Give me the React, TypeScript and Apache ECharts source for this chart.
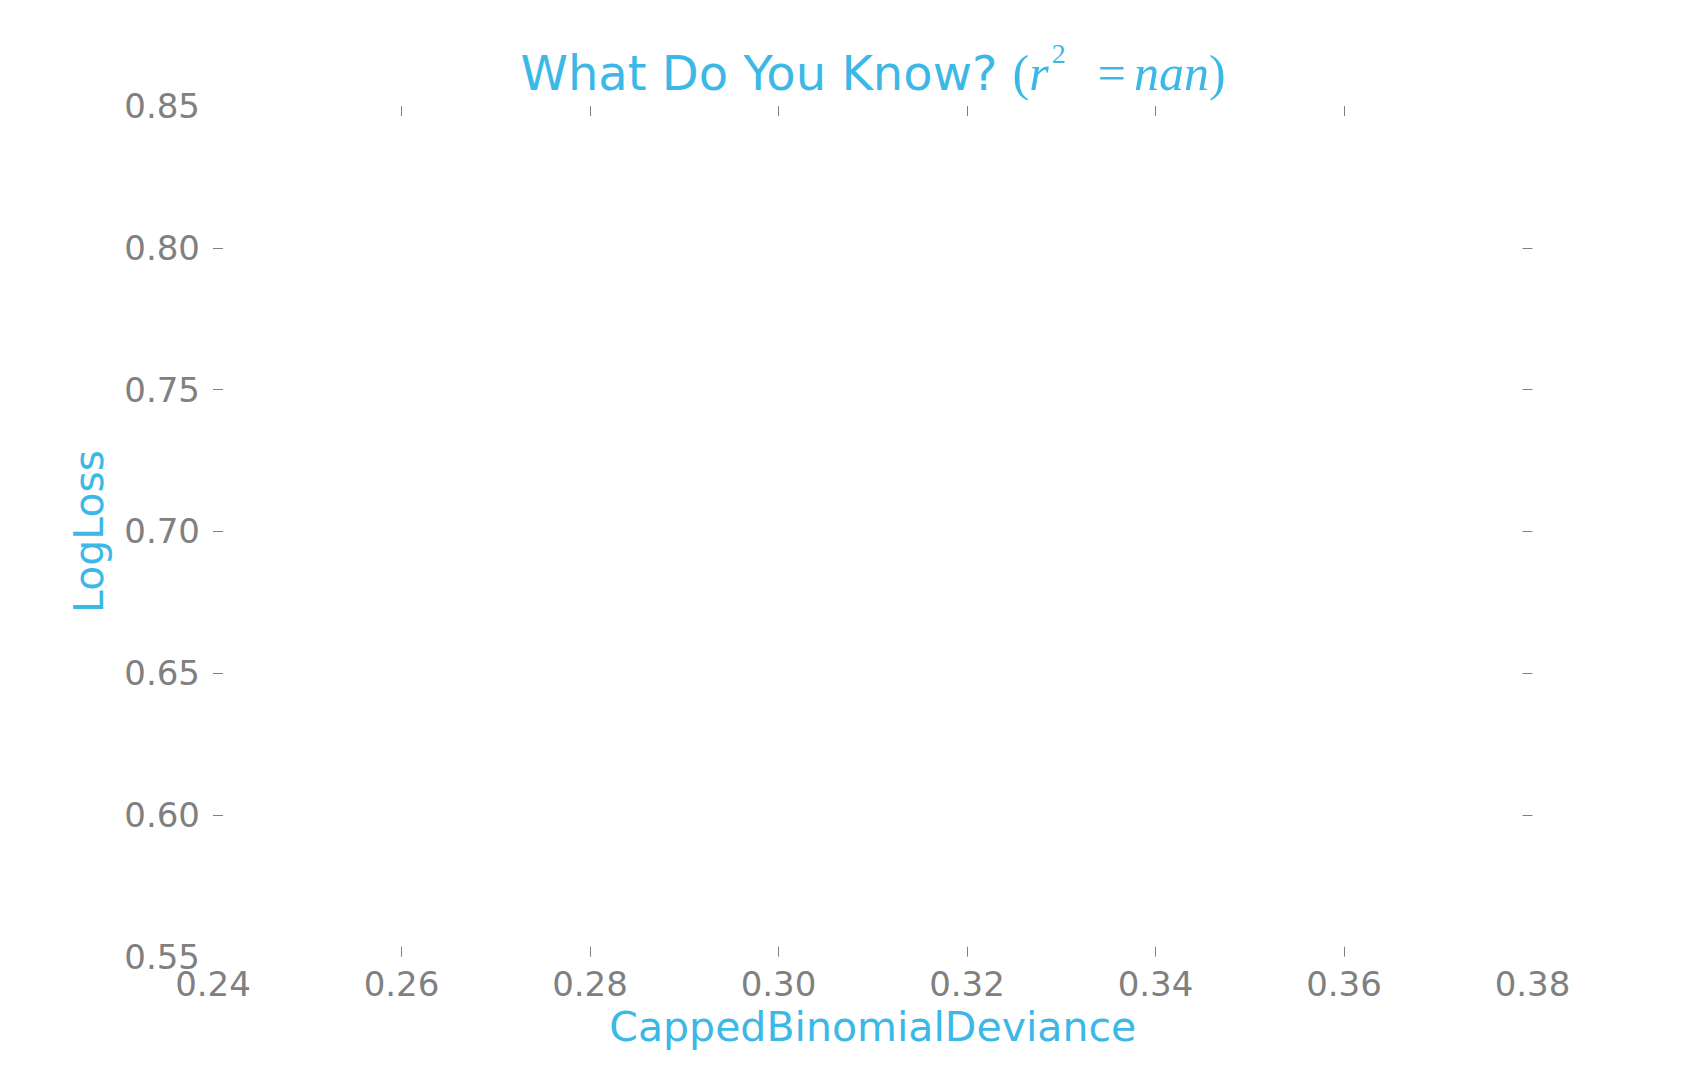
import React, { useEffect, useRef } from "react";
import * as echarts from "echarts";

// ---- data ----
const xMin = 0.24;
const xMax = 0.38;
const xStep = 0.02;
const yMin = 0.55;
const yMax = 0.85;
const yStep = 0.05;
const xTickLabels = [0.24, 0.26, 0.28, 0.3, 0.32, 0.34, 0.36, 0.38];
const xTickMarks = [0.26, 0.28, 0.3, 0.32, 0.34, 0.36];
const yTickLabels = [0.55, 0.6, 0.65, 0.7, 0.75, 0.8, 0.85];
const yTickMarks = [0.6, 0.65, 0.7, 0.75, 0.8];
const points: [number, number][] = [];
const titleMain = "What Do You Know? ";
const rSquared = "nan";
const xName = "CappedBinomialDeviance";
const yName = "LogLoss";

const BLUE = "#3CB8E7";
const GRAY = "#808080";
const SANS = "DejaVu Sans";
const SERIF = "Liberation Serif";

export default function App() {
  const ref = useRef<HTMLDivElement>(null);
  useEffect(() => {
    if (!ref.current) return;
    const chart = echarts.init(ref.current, undefined, { renderer: "svg" });
    const fmt = (v: number) => v.toFixed(2);
    const common = {
      type: "value" as const,
      splitLine: { show: false },
      axisLine: { show: false },
    };
    const base = { color: BLUE, fontWeight: "normal" as const };
    chart.setOption({
      animation: false,
      backgroundColor: "#ffffff",
      title: {
        text: `{t|${titleMain}}{p|(}{i|r}{s|2}{e|=}{i|${rSquared}}{p|)}`,
        left: 873,
        top: 45,
        textAlign: "center",
        padding: 0,
        textStyle: {
          fontWeight: "normal",
          rich: {
            t: { ...base, fontFamily: SANS, fontSize: 48, lineHeight: 56 },
            p: { ...base, fontFamily: SERIF, fontSize: 50, lineHeight: 56 },
            i: { ...base, fontFamily: SERIF, fontStyle: "italic", fontSize: 50, lineHeight: 56 },
            s: { ...base, fontFamily: SERIF, fontSize: 28, lineHeight: 28, padding: [0, 0, 40, 3] },
            e: { ...base, fontFamily: SERIF, fontSize: 50, lineHeight: 56, padding: [0, 8, 0, 32] },
          },
        },
      },
      grid: { left: 213, right: 171.5, top: 106, bottom: 108.3, containLabel: false },
      xAxis: [
        {
          ...common,
          position: "bottom",
          min: xMin,
          max: xMax,
          interval: xStep,
          name: xName,
          nameLocation: "middle",
          nameGap: 50,
          nameTextStyle: { fontFamily: SANS, fontSize: 41, color: BLUE },
          axisTick: { show: true, inside: true, length: 10, customValues: xTickMarks, lineStyle: { color: GRAY, width: 1 } },
          axisLabel: { show: true, customValues: xTickLabels, formatter: fmt, margin: 10, fontFamily: SANS, fontSize: 34, color: GRAY },
        },
        {
          ...common,
          position: "top",
          min: xMin,
          max: xMax,
          interval: xStep,
          axisTick: { show: true, inside: true, length: 10, customValues: xTickMarks, lineStyle: { color: GRAY, width: 1 } },
          axisLabel: { show: false },
        },
      ],
      yAxis: [
        {
          ...common,
          position: "left",
          min: yMin,
          max: yMax,
          interval: yStep,
          name: yName,
          nameLocation: "middle",
          nameGap: 104,
          nameTextStyle: { fontFamily: SANS, fontSize: 41, color: BLUE },
          axisTick: { show: true, inside: true, length: 10, customValues: yTickMarks, lineStyle: { color: GRAY, width: 1 } },
          axisLabel: { show: true, customValues: yTickLabels, formatter: fmt, margin: 13, fontFamily: SANS, fontSize: 34, color: GRAY },
        },
        {
          ...common,
          position: "right",
          min: yMin,
          max: yMax,
          interval: yStep,
          axisTick: { show: true, inside: true, length: 10, customValues: yTickMarks, lineStyle: { color: GRAY, width: 1 } },
          axisLabel: { show: false },
        },
      ],
      series: [
        {
          type: "scatter",
          xAxisIndex: 0,
          yAxisIndex: 0,
          data: points,
          itemStyle: { color: BLUE },
        },
      ],
    });
    return () => chart.dispose();
  }, []);
  return (
    <div
      ref={ref}
      style={{ position: "absolute", left: 0, top: 0, width: 1704, height: 1065 }}
    />
  );
}
